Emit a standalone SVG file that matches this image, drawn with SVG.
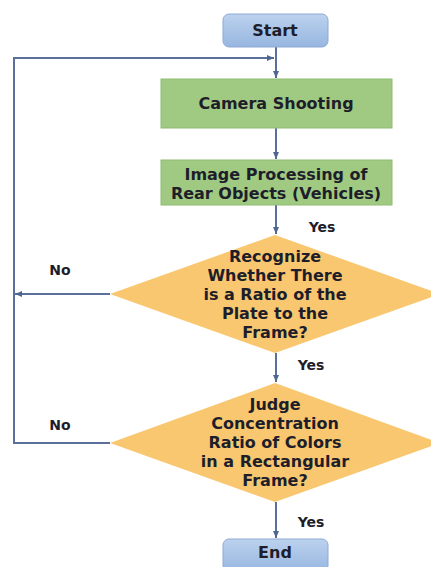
<svg xmlns="http://www.w3.org/2000/svg" width="431" height="567" viewBox="0 0 431 567">
<defs>
<linearGradient id="gBlue" x1="0" y1="0" x2="0" y2="1"><stop offset="0" stop-color="#bcd2ee"/><stop offset="1" stop-color="#97b6e0"/></linearGradient>
<marker id="arr" markerWidth="8" markerHeight="8" refX="7" refY="4" orient="auto" markerUnits="userSpaceOnUse"><path d="M0,1 L7,4 L0,7 Z" fill="#4f6690"/></marker>
<style>
.t{font-family:"DejaVu Sans",sans-serif;font-weight:bold;font-size:16px;fill:#1e1e2a;text-anchor:middle}
.l{font-family:"DejaVu Sans",sans-serif;font-weight:bold;font-size:14px;fill:#1e1e2a;text-anchor:middle}
.c{fill:none;stroke:#5a6f9a;stroke-width:2}
.term{fill:url(#gBlue);stroke:#8eaad6;stroke-width:1}
.proc{fill:#a0ca82;stroke:#8fbb72;stroke-width:1}
.dec{fill:#f9c76f}
</style>
</defs>
<rect width="431" height="567" fill="#ffffff"/>
<g id="connectors">
<line class="c" x1="276" y1="47" x2="276" y2="78" marker-end="url(#arr)"/>
<polyline class="c" points="110,443 14,443 14,58 274,58" marker-end="url(#arr)"/>
<line class="c" x1="110" y1="294" x2="15" y2="294" marker-end="url(#arr)"/>
<line class="c" x1="276" y1="128" x2="276" y2="159" marker-end="url(#arr)"/>
<line class="c" x1="276" y1="205" x2="276" y2="234" marker-end="url(#arr)"/>
<line class="c" x1="276" y1="353" x2="276" y2="382" marker-end="url(#arr)"/>
<line class="c" x1="276" y1="502" x2="276" y2="538" marker-end="url(#arr)"/>
</g>
<g id="start"><rect class="term" x="223" y="14" width="105" height="33" rx="6"/><text class="t" x="275" y="36">Start</text></g>
<g id="camera"><rect class="proc" x="161" y="79" width="231" height="49"/><text class="t" x="276" y="109">Camera Shooting</text></g>
<g id="imageproc"><rect class="proc" x="161" y="160" width="231" height="45"/><text class="t" x="276" y="180">Image Processing of</text><text class="t" x="276" y="199">Rear Objects (Vehicles)</text></g>
<g id="recognize"><polygon class="dec" points="275,235 440,294 275,353 110,294"/>
<text class="t" x="275" y="262">Recognize</text><text class="t" x="275" y="281">Whether There</text><text class="t" x="275" y="300">is a Ratio of the</text><text class="t" x="275" y="319">Plate to the</text><text class="t" x="275" y="338">Frame?</text></g>
<g id="judge"><polygon class="dec" points="275,383 440,443 275,502 110,443"/>
<text class="t" x="275" y="410">Judge</text><text class="t" x="275" y="429">Concentration</text><text class="t" x="275" y="448">Ratio of Colors</text><text class="t" x="275" y="467">in a Rectangular</text><text class="t" x="275" y="486">Frame?</text></g>
<g id="end"><rect class="term" x="223" y="539" width="105" height="33" rx="6"/><text class="t" x="275" y="558">End</text></g>
<g id="labels">
<text class="l" x="322" y="232">Yes</text>
<text class="l" x="311" y="370">Yes</text>
<text class="l" x="311" y="527">Yes</text>
<text class="l" x="60" y="275">No</text>
<text class="l" x="60" y="430">No</text>
</g>
</svg>
